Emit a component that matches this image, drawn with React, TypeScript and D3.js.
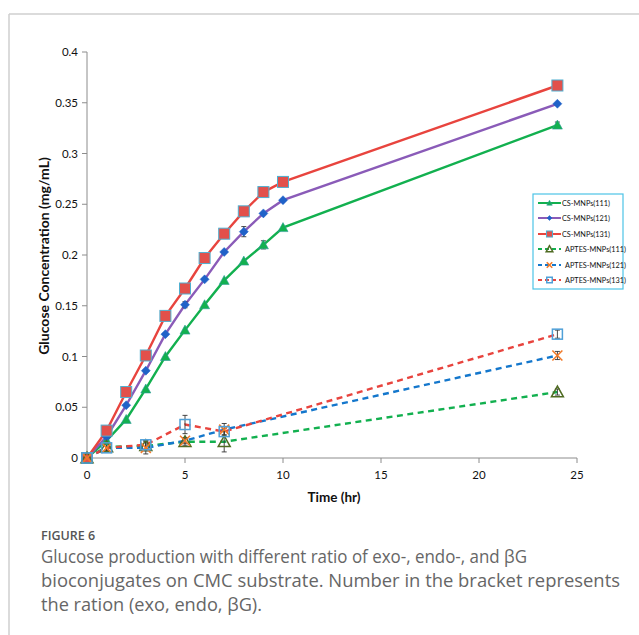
import React from "react";
import * as d3 from "d3";

const timesCS = [0, 1, 2, 3, 4, 5, 6, 7, 8, 9, 10, 24];
const cs111 = [0, 0.017, 0.038, 0.068, 0.1, 0.126, 0.151, 0.175, 0.194, 0.21, 0.227, 0.328];
const cs111Err = [0, 0.002, 0, 0, 0, 0, 0, 0, 0, 0.004, 0, 0.003];
const cs121 = [0, 0.021, 0.052, 0.086, 0.122, 0.151, 0.176, 0.203, 0.223, 0.241, 0.254, 0.349];
const cs121Err = [0, 0, 0, 0, 0, 0.003, 0, 0, 0.005, 0, 0, 0];
const cs131 = [0, 0.027, 0.065, 0.101, 0.14, 0.167, 0.197, 0.221, 0.243, 0.262, 0.272, 0.367];
const cs131Err = [0, 0, 0, 0, 0, 0, 0, 0, 0, 0, 0, 0];

const timesAP = [0, 1, 3, 5, 7, 24];
const ap111 = [0, 0.011, 0.012, 0.016, 0.016, 0.065];
const ap111Err = [0, 0.004, 0.005, 0.004, 0.01, 0.003];
const ap121 = [0, 0.01, 0.01, 0.017, 0.028, 0.101];
const ap121Err = [0, 0.004, 0.006, 0.003, 0.006, 0.004];
const ap131 = [0, 0.01, 0.013, 0.033, 0.026, 0.122];
const ap131Err = [0, 0.003, 0.004, 0.009, 0.003, 0.004];

const seriesNames = [
  "CS-MNPs(111)",
  "CS-MNPs(121)",
  "CS-MNPs(131)",
  "APTES-MNPs(111)",
  "APTES-MNPs(121)",
  "APTES-MNPs(131)",
];
const xTicks = [0, 5, 10, 15, 20, 25];
const yTicks = [0, 0.05, 0.1, 0.15, 0.2, 0.25, 0.3, 0.35, 0.4];

type Marker = "tri" | "diamond" | "square" | "triOpen" | "xstar" | "squareOpen";
interface Series {
  name: string;
  t: number[];
  v: number[];
  e: number[];
  color: string;
  dashed: boolean;
  marker: Marker;
}

const series: Series[] = [
  { name: seriesNames[0], t: timesCS, v: cs111, e: cs111Err, color: "#12B04F", dashed: false, marker: "tri" },
  { name: seriesNames[1], t: timesCS, v: cs121, e: cs121Err, color: "#8A5BB8", dashed: false, marker: "diamond" },
  { name: seriesNames[2], t: timesCS, v: cs131, e: cs131Err, color: "#E8443E", dashed: false, marker: "square" },
  { name: seriesNames[3], t: timesAP, v: ap111, e: ap111Err, color: "#12B04F", dashed: true, marker: "triOpen" },
  { name: seriesNames[4], t: timesAP, v: ap121, e: ap121Err, color: "#1477CC", dashed: true, marker: "xstar" },
  { name: seriesNames[5], t: timesAP, v: ap131, e: ap131Err, color: "#E8443E", dashed: true, marker: "squareOpen" },
];

function MarkerShape({ m, x, y, scale = 1 }: { m: Marker; x: number; y: number; scale?: number }) {
  const s = scale;
  switch (m) {
    case "tri": {
      const r = 5 * s;
      return (
        <polygon
          points={`${x},${y - r} ${x - r},${y + r * 0.8} ${x + r},${y + r * 0.8}`}
          fill="#12B04F"
          stroke="#2E9C9A"
          strokeWidth={0.6}
        />
      );
    }
    case "diamond": {
      const r = 4.5 * s;
      return (
        <polygon
          points={`${x},${y - r} ${x + r},${y} ${x},${y + r} ${x - r},${y}`}
          fill="#2062C8"
          stroke="#2062C8"
          strokeWidth={0.5}
        />
      );
    }
    case "square": {
      const r = 5.5 * s;
      return <rect x={x - r} y={y - r} width={2 * r} height={2 * r} fill="#E2504B" stroke="#4FAFD0" strokeWidth={1} />;
    }
    case "triOpen": {
      const r = 6 * s;
      return (
        <polygon
          points={`${x},${y - r} ${x - r},${y + r * 0.8} ${x + r},${y + r * 0.8}`}
          fill="none"
          stroke="#4F6B22"
          strokeWidth={1.5}
        />
      );
    }
    case "xstar": {
      const r = 5 * s;
      return (
        <g stroke="#F07A2A" strokeWidth={1.6}>
          <line x1={x - r} y1={y - r} x2={x + r} y2={y + r} />
          <line x1={x - r} y1={y + r} x2={x + r} y2={y - r} />
        </g>
      );
    }
    case "squareOpen": {
      const r = 5 * s;
      return <rect x={x - r} y={y - r} width={2 * r} height={2 * r} fill="none" stroke="#4FA0D8" strokeWidth={1.5} />;
    }
  }
  return null;
}

export default function App() {
  const W = 639;
  const H = 635;
  const x0 = 87;
  const x1 = 577;
  const yTop = 52;
  const yBot = 458;
  const x = d3.scaleLinear().domain([0, 25]).range([x0, x1]);
  const y = d3.scaleLinear().domain([0, 0.4]).range([yBot, yTop]);
  const line = d3
    .line<[number, number]>()
    .x((d) => x(d[0]))
    .y((d) => y(d[1]));

  const axisColor = "#8c8c8c";
  const tickFont = "Lato, 'Open Sans', sans-serif";

  const legendX = 533;
  const legendY = 194;
  const legendRowY = [203, 218, 234, 249, 265, 280];

  return (
    <svg width={W} height={H} style={{ position: "absolute", left: 0, top: 0, background: "#fff" }}>
      {/* frame */}
      <line x1={9} y1={14} x2={W} y2={14} stroke="#cfcfcf" strokeWidth={1.5} />
      <line x1={9} y1={14} x2={9} y2={H} stroke="#cfcfcf" strokeWidth={1.5} />

      {/* axes */}
      <line x1={x0} y1={yTop} x2={x0} y2={yBot} stroke={axisColor} strokeWidth={1} />
      <line x1={x0} y1={yBot} x2={x1} y2={yBot} stroke={axisColor} strokeWidth={1} />
      {yTicks.map((t) => (
        <g key={"y" + t}>
          <line x1={x0 - 5} x2={x0} y1={y(t)} y2={y(t)} stroke={axisColor} />
          <text x={x0 - 9} y={y(t)} dy="0.35em" textAnchor="end" fontSize={11.5} fontFamily={tickFont} fill="#111">
            {String(t)}
          </text>
        </g>
      ))}
      {xTicks.map((t) => (
        <g key={"x" + t}>
          <line x1={x(t)} x2={x(t)} y1={yBot} y2={yBot + 5} stroke={axisColor} />
          <text x={x(t)} y={yBot + 17} dy="0.35em" textAnchor="middle" fontSize={11.5} fontFamily={tickFont} fill="#111">
            {String(t)}
          </text>
        </g>
      ))}
      <text x={334} y={497} dy="0.35em" textAnchor="middle" fontSize={13.5} fontWeight="bold" fontFamily={tickFont} fill="#111">
        Time (hr)
      </text>
      <text
        transform={`translate(44, 256) rotate(-90)`}
        textAnchor="middle"
        dy="0.35em"
        fontSize={14}
        fontWeight="bold"
        fontFamily={tickFont}
        fill="#111"
      >
        Glucose Concentration (mg/mL)
      </text>

      {/* lines */}
      {series.map((s) => (
        <path
          key={"l" + s.name}
          d={line(s.t.map((t, i) => [t, s.v[i]] as [number, number])) || ""}
          fill="none"
          stroke={s.color}
          strokeWidth={2.4}
          strokeDasharray={s.dashed ? "6,4.5" : undefined}
        />
      ))}

      {/* error bars */}
      {series.map((s) =>
        s.t.map((t, i) =>
          s.e[i] > 0 ? (
            <g key={"e" + s.name + i} stroke="#333" strokeWidth={0.9}>
              <line x1={x(t)} x2={x(t)} y1={y(s.v[i] - s.e[i])} y2={y(s.v[i] + s.e[i])} />
              <line x1={x(t) - 2.5} x2={x(t) + 2.5} y1={y(s.v[i] - s.e[i])} y2={y(s.v[i] - s.e[i])} />
              <line x1={x(t) - 2.5} x2={x(t) + 2.5} y1={y(s.v[i] + s.e[i])} y2={y(s.v[i] + s.e[i])} />
            </g>
          ) : null
        )
      )}

      {/* markers */}
      {series.map((s) =>
        s.t.map((t, i) => <MarkerShape key={"m" + s.name + i} m={s.marker} x={x(t)} y={y(s.v[i])} />)
      )}

      {/* legend */}
      <rect x={legendX} y={legendY} width={90} height={95} fill="#fff" stroke="#4CC3E6" strokeWidth={1.2} />
      {series.map((s, i) => (
        <g key={"lg" + s.name}>
          <line
            x1={legendX + 5}
            x2={legendX + 28}
            y1={legendRowY[i]}
            y2={legendRowY[i]}
            stroke={s.color}
            strokeWidth={2}
            strokeDasharray={s.dashed ? "4,3" : undefined}
          />
          <MarkerShape m={s.marker} x={legendX + 16.5} y={legendRowY[i]} scale={0.55} />
          <text x={legendX + (s.dashed ? 32 : 29)} y={legendRowY[i]} dy="0.35em" fontSize={7.3} fontFamily={tickFont} fill="#111">
            {s.name}
          </text>
        </g>
      ))}

      {/* caption */}
      <text x={41} y={540} fontSize={12.5} fontWeight={600} fontFamily="'Open Sans', sans-serif" fill="#555">
        FIGURE 6
      </text>
      <g fontSize={17.5} fontFamily="'Open Sans', sans-serif" fill="#666">
        <text x={41} y={563} textLength={486} lengthAdjust="spacingAndGlyphs">
          Glucose production with different ratio of exo-, endo-, and βG
        </text>
        <text x={41} y={587} textLength={579} lengthAdjust="spacingAndGlyphs">
          bioconjugates on CMC substrate. Number in the bracket represents
        </text>
        <text x={41} y={611} textLength={221} lengthAdjust="spacingAndGlyphs">
          the ration (exo, endo, βG).
        </text>
      </g>
    </svg>
  );
}
